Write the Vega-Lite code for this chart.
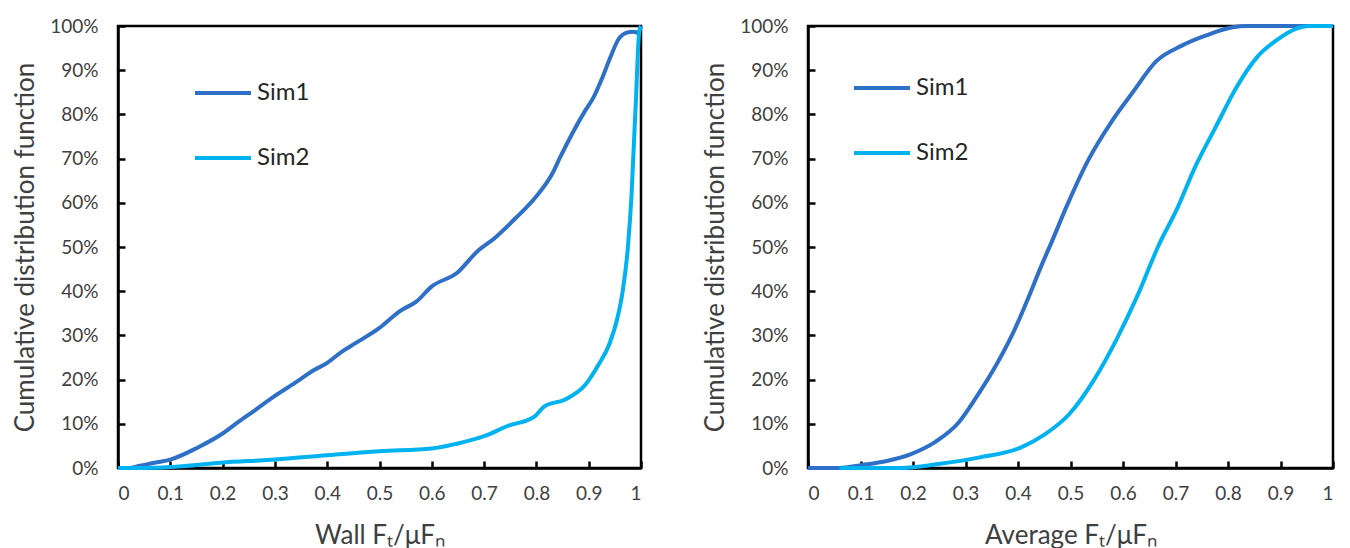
{
  "$schema": "https://vega.github.io/schema/vega-lite/v6.json",
  "padding": {"left": 10, "top": 15, "right": 5, "bottom": 5},
  "bounds": "flush",
  "spacing": 167,
  "background": "white",
  "datasets": {
    "wall": [
      {"series": "Sim1", "x": 0.0, "cdf": 0.0},
      {"series": "Sim1", "x": 0.02, "cdf": 0.0},
      {"series": "Sim1", "x": 0.042, "cdf": 0.005},
      {"series": "Sim1", "x": 0.07, "cdf": 0.012},
      {"series": "Sim1", "x": 0.1, "cdf": 0.019},
      {"series": "Sim1", "x": 0.152, "cdf": 0.046},
      {"series": "Sim1", "x": 0.2, "cdf": 0.078},
      {"series": "Sim1", "x": 0.223, "cdf": 0.098},
      {"series": "Sim1", "x": 0.261, "cdf": 0.13},
      {"series": "Sim1", "x": 0.3, "cdf": 0.163},
      {"series": "Sim1", "x": 0.339, "cdf": 0.193},
      {"series": "Sim1", "x": 0.371, "cdf": 0.219},
      {"series": "Sim1", "x": 0.4, "cdf": 0.238},
      {"series": "Sim1", "x": 0.429, "cdf": 0.264},
      {"series": "Sim1", "x": 0.455, "cdf": 0.283},
      {"series": "Sim1", "x": 0.5, "cdf": 0.317},
      {"series": "Sim1", "x": 0.539, "cdf": 0.355},
      {"series": "Sim1", "x": 0.571, "cdf": 0.377},
      {"series": "Sim1", "x": 0.6, "cdf": 0.411},
      {"series": "Sim1", "x": 0.648, "cdf": 0.441},
      {"series": "Sim1", "x": 0.687, "cdf": 0.49},
      {"series": "Sim1", "x": 0.72, "cdf": 0.52},
      {"series": "Sim1", "x": 0.76, "cdf": 0.565},
      {"series": "Sim1", "x": 0.8, "cdf": 0.615},
      {"series": "Sim1", "x": 0.83, "cdf": 0.665},
      {"series": "Sim1", "x": 0.845, "cdf": 0.702},
      {"series": "Sim1", "x": 0.893, "cdf": 0.808},
      {"series": "Sim1", "x": 0.909, "cdf": 0.838},
      {"series": "Sim1", "x": 0.925, "cdf": 0.88},
      {"series": "Sim1", "x": 0.941, "cdf": 0.928},
      {"series": "Sim1", "x": 0.957, "cdf": 0.97},
      {"series": "Sim1", "x": 0.973, "cdf": 0.985},
      {"series": "Sim1", "x": 0.985, "cdf": 0.987},
      {"series": "Sim1", "x": 0.995, "cdf": 0.985},
      {"series": "Sim1", "x": 1.0, "cdf": 1.0},
      {"series": "Sim2", "x": 0.0, "cdf": 0.0},
      {"series": "Sim2", "x": 0.05, "cdf": 0.0},
      {"series": "Sim2", "x": 0.1, "cdf": 0.002},
      {"series": "Sim2", "x": 0.197, "cdf": 0.012},
      {"series": "Sim2", "x": 0.3, "cdf": 0.019},
      {"series": "Sim2", "x": 0.4, "cdf": 0.029},
      {"series": "Sim2", "x": 0.5, "cdf": 0.038},
      {"series": "Sim2", "x": 0.6, "cdf": 0.044},
      {"series": "Sim2", "x": 0.648, "cdf": 0.055},
      {"series": "Sim2", "x": 0.7, "cdf": 0.072},
      {"series": "Sim2", "x": 0.745, "cdf": 0.095},
      {"series": "Sim2", "x": 0.797, "cdf": 0.117},
      {"series": "Sim2", "x": 0.816, "cdf": 0.14},
      {"series": "Sim2", "x": 0.855, "cdf": 0.155},
      {"series": "Sim2", "x": 0.894, "cdf": 0.189},
      {"series": "Sim2", "x": 0.919, "cdf": 0.234},
      {"series": "Sim2", "x": 0.939, "cdf": 0.279},
      {"series": "Sim2", "x": 0.955, "cdf": 0.34},
      {"series": "Sim2", "x": 0.965, "cdf": 0.4},
      {"series": "Sim2", "x": 0.975, "cdf": 0.5},
      {"series": "Sim2", "x": 0.982, "cdf": 0.62},
      {"series": "Sim2", "x": 0.987, "cdf": 0.75},
      {"series": "Sim2", "x": 0.991, "cdf": 0.85},
      {"series": "Sim2", "x": 0.994, "cdf": 0.94},
      {"series": "Sim2", "x": 0.997, "cdf": 0.99},
      {"series": "Sim2", "x": 1.0, "cdf": 1.0}
    ],
    "avg": [
      {"series": "Sim1", "x": 0.0, "cdf": 0.0},
      {"series": "Sim1", "x": 0.058, "cdf": 0.0},
      {"series": "Sim1", "x": 0.104, "cdf": 0.007},
      {"series": "Sim1", "x": 0.15, "cdf": 0.016},
      {"series": "Sim1", "x": 0.195, "cdf": 0.031},
      {"series": "Sim1", "x": 0.241, "cdf": 0.058},
      {"series": "Sim1", "x": 0.287, "cdf": 0.103},
      {"series": "Sim1", "x": 0.32, "cdf": 0.159},
      {"series": "Sim1", "x": 0.359, "cdf": 0.234},
      {"series": "Sim1", "x": 0.392, "cdf": 0.309},
      {"series": "Sim1", "x": 0.42, "cdf": 0.386},
      {"series": "Sim1", "x": 0.445, "cdf": 0.459},
      {"series": "Sim1", "x": 0.464, "cdf": 0.511},
      {"series": "Sim1", "x": 0.493, "cdf": 0.593},
      {"series": "Sim1", "x": 0.533, "cdf": 0.695},
      {"series": "Sim1", "x": 0.579, "cdf": 0.785},
      {"series": "Sim1", "x": 0.618, "cdf": 0.849},
      {"series": "Sim1", "x": 0.664, "cdf": 0.921},
      {"series": "Sim1", "x": 0.711, "cdf": 0.955},
      {"series": "Sim1", "x": 0.757, "cdf": 0.978},
      {"series": "Sim1", "x": 0.809, "cdf": 0.997},
      {"series": "Sim1", "x": 0.836, "cdf": 1.0},
      {"series": "Sim1", "x": 1.0, "cdf": 1.0},
      {"series": "Sim2", "x": 0.06, "cdf": 0.0},
      {"series": "Sim2", "x": 0.176, "cdf": 0.0},
      {"series": "Sim2", "x": 0.248, "cdf": 0.009},
      {"series": "Sim2", "x": 0.327, "cdf": 0.024},
      {"series": "Sim2", "x": 0.405, "cdf": 0.046},
      {"series": "Sim2", "x": 0.451, "cdf": 0.076},
      {"series": "Sim2", "x": 0.497, "cdf": 0.121},
      {"series": "Sim2", "x": 0.543, "cdf": 0.196},
      {"series": "Sim2", "x": 0.589, "cdf": 0.294},
      {"series": "Sim2", "x": 0.628, "cdf": 0.391},
      {"series": "Sim2", "x": 0.668, "cdf": 0.504},
      {"series": "Sim2", "x": 0.704, "cdf": 0.589},
      {"series": "Sim2", "x": 0.737, "cdf": 0.68},
      {"series": "Sim2", "x": 0.776, "cdf": 0.77},
      {"series": "Sim2", "x": 0.816, "cdf": 0.861},
      {"series": "Sim2", "x": 0.855, "cdf": 0.929},
      {"series": "Sim2", "x": 0.895, "cdf": 0.97},
      {"series": "Sim2", "x": 0.928, "cdf": 0.993},
      {"series": "Sim2", "x": 0.954, "cdf": 1.0},
      {"series": "Sim2", "x": 1.0, "cdf": 1.0}
    ]
  },
  "hconcat": [
    {
      "width": 523,
      "height": 442,
      "data": {"name": "wall"},
      "mark": {"type": "line", "strokeWidth": 4, "interpolate": "monotone"},
      "encoding": {
        "x": {
          "field": "x", "type": "quantitative",
          "scale": {"domain": [0, 1], "nice": false},
          "axis": {"values": [0, 0.1, 0.2, 0.3, 0.4, 0.5, 0.6, 0.7, 0.8, 0.9, 1], "format": "~g", "title": "Wall Fₜ/μFₙ", "titleY": 54, "ticks": true, "tickSize": -7, "tickColor": "#000000", "tickWidth": 2.5, "labelPadding": 23}
        },
        "y": {
          "field": "cdf", "type": "quantitative",
          "scale": {"domain": [0, 1], "nice": false},
          "axis": {"values": [0, 0.1, 0.2, 0.3, 0.4, 0.5, 0.6, 0.7, 0.8, 0.9, 1], "format": ".0%", "title": "Cumulative distribution function", "titleX": -80, "ticks": true, "tickSize": -7, "tickColor": "#000000", "tickWidth": 2.5, "labelPadding": 27}
        },
        "color": {
          "field": "series", "type": "nominal",
          "scale": {"domain": ["Sim1", "Sim2"], "range": ["#2E6FC7", "#00B2F0"]},
          "legend": {"orient": "none", "legendX": 75, "legendY": 37, "title": null}
        }
      }
    },
    {
      "width": 525,
      "height": 442,
      "data": {"name": "avg"},
      "mark": {"type": "line", "strokeWidth": 4, "interpolate": "monotone"},
      "encoding": {
        "x": {
          "field": "x", "type": "quantitative",
          "scale": {"domain": [0, 1], "nice": false},
          "axis": {"values": [0, 0.1, 0.2, 0.3, 0.4, 0.5, 0.6, 0.7, 0.8, 0.9, 1], "format": "~g", "title": "Average Fₜ/μFₙ", "titleY": 54, "ticks": true, "tickSize": -7, "tickColor": "#000000", "tickWidth": 2.5, "labelPadding": 23}
        },
        "y": {
          "field": "cdf", "type": "quantitative",
          "scale": {"domain": [0, 1], "nice": false},
          "axis": {"values": [0, 0.1, 0.2, 0.3, 0.4, 0.5, 0.6, 0.7, 0.8, 0.9, 1], "format": ".0%", "title": "Cumulative distribution function", "titleX": -80, "ticks": true, "tickSize": -7, "tickColor": "#000000", "tickWidth": 2.5, "labelPadding": 27}
        },
        "color": {
          "field": "series", "type": "nominal",
          "scale": {"domain": ["Sim1", "Sim2"], "range": ["#2E6FC7", "#00B2F0"]},
          "legend": {"orient": "none", "legendX": 44, "legendY": 32, "title": null}
        }
      }
    }
  ],
  "resolve": {"scale": {"color": "independent"}, "legend": {"color": "independent"}},
  "config": {
    "view": {"stroke": "#000000", "strokeWidth": 2.5},
    "axis": {
      "grid": false,
      "domainColor": "#000000", "domainWidth": 2.5,
      "labelFont": "Lato", "labelFontSize": 19, "labelColor": "#404040",
      "titleFont": "Lato", "titleFontSize": 26, "titleColor": "#404040", "titleFontWeight": "normal"
    },
    "legend": {
      "symbolType": "stroke", "symbolSize": 3136, "symbolStrokeWidth": 4,
      "labelFont": "Lato", "labelFontSize": 24, "labelColor": "#262626",
      "rowPadding": 23, "labelOffset": 4, "padding": 0
    }
  }
}
